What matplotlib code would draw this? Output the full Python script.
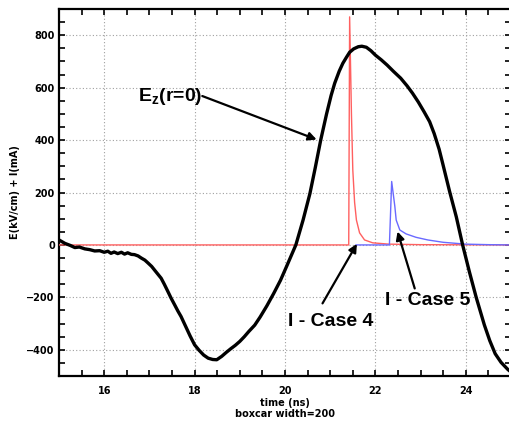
import numpy as np
import matplotlib
matplotlib.use("Agg")
import matplotlib.pyplot as plt
from matplotlib.ticker import MultipleLocator

# E_z(r=0) trace (time in ns, field in kV/cm)
ez_t = [15.00, 15.13, 15.25, 15.35, 15.45, 15.57, 15.68, 15.79, 15.90, 16.00,
        16.08, 16.15, 16.22, 16.30, 16.38, 16.45, 16.52, 16.60, 16.67, 16.75,
        16.82, 16.90, 16.97, 17.05, 17.11, 17.18, 17.26, 17.33, 17.41, 17.48,
        17.56, 17.63, 17.70, 17.80, 17.90, 18.00, 18.10, 18.20, 18.30, 18.40,
        18.49, 18.60, 18.70, 18.80, 18.90, 19.00, 19.10, 19.20, 19.33, 19.45,
        19.60, 19.75, 19.90, 20.04, 20.14, 20.24, 20.40, 20.55, 20.67, 20.79,
        20.92, 21.02, 21.10, 21.20, 21.28, 21.36, 21.43, 21.52, 21.62, 21.70,
        21.80, 21.90, 22.00, 22.13, 22.26, 22.40, 22.56, 22.70, 22.82, 22.95,
        23.08, 23.20, 23.30, 23.41, 23.49, 23.64, 23.79, 23.93, 24.08, 24.23,
        24.41, 24.53, 24.65, 24.78, 24.93, 25.00]
ez_v = [19, 6, -2, -10, -8, -15, -18, -23, -22, -28,
        -24, -32, -27, -33, -28, -35, -30, -36, -37, -42,
        -50, -58, -69, -82, -95, -110, -127, -150, -178, -203,
        -229, -252, -273, -310, -347, -381, -402, -420, -432, -437,
        -438, -425, -410, -396, -383, -368, -350, -330, -306, -275,
        -232, -185, -135, -80, -40, 0, 95, 195, 295, 400,
        500, 570, 617, 663, 693, 716, 735, 748, 756, 758,
        754, 741, 724, 706, 686, 662, 636, 607, 579, 545,
        507, 470, 425, 365, 310, 205, 107, 0, -103, -200,
        -305, -365, -415, -448, -475, -485]

# current, case 4 (mA)
c4_t = [15.0, 21.41, 21.43, 21.47, 21.50, 21.54, 21.58, 21.65, 21.76, 21.94, 22.3, 23.0, 25.0]
c4_v = [0, 0, 870, 500, 286, 162, 95, 46, 19, 8, 3, 1, 0]

# current, case 5 (mA)
c5_t = [21.57, 22.31, 22.36, 22.43, 22.46, 22.54, 22.68, 22.90, 23.16, 23.5, 24.0, 24.5, 25.0]
c5_v = [0, 0, 242, 147, 95, 57, 42, 29, 19, 10, 3, 1, 0]

fig = plt.figure(figsize=(5.10, 4.24), dpi=100)
ax = fig.add_axes([59 / 510, 1 - 376 / 424, 452 / 510, 367 / 424])

ax.plot(c4_t, c4_v, color='#ff6060', lw=1.0, zorder=3)
ax.plot(c5_t, c5_v, color='#6a6aff', lw=1.0, zorder=3)
ax.plot(ez_t, ez_v, color='black', lw=2.4, zorder=4)

ax.set_xlim(15, 25)
ax.set_ylim(-500, 900)
ax.xaxis.set_major_locator(MultipleLocator(2))
ax.xaxis.set_minor_locator(MultipleLocator(0.5))
ax.yaxis.set_major_locator(MultipleLocator(200))
ax.yaxis.set_minor_locator(MultipleLocator(50))
ax.tick_params(which='both', direction='in', top=True, right=True,
               length=4.5, width=1.2)
ax.tick_params(axis='x', pad=7)
ax.tick_params(axis='y', pad=3)
for lab in ax.get_xticklabels() + ax.get_yticklabels():
    lab.set_fontsize(7)
    lab.set_fontweight('bold')
for sp in ax.spines.values():
    sp.set_linewidth(1.6)

ax.grid(True, which='major', color='#a0a0a0', lw=0.8, linestyle=(0, (1, 2)))
ax.set_axisbelow(True)

ax.set_xlabel("time (ns)\nboxcar width=200", fontsize=7, fontweight='bold',
              linespacing=1.05, labelpad=2)
ax.set_ylabel("E(kV/cm) + I(mA)", fontsize=7, fontweight='bold', labelpad=5)

# annotations
ann = dict(family='Liberation Sans', fontweight='bold', fontsize=14)
arrow = dict(arrowstyle='-|>', color='black', lw=1.6, mutation_scale=12,
             shrinkA=0, shrinkB=0)
ax.text(18.17, 565, r"E$_\mathregular{z}$(r=0)", ha='right', va='center', **ann)
ax.annotate('', xy=(20.70, 402), xytext=(18.17, 568), arrowprops=arrow)

ax.text(21.0, -291, "I - Case 4", ha='center', va='center', **ann)
ax.annotate('', xy=(21.59, 4), xytext=(20.83, -223), arrowprops=arrow)

ax.text(23.15, -211, "I - Case 5", ha='center', va='center', **ann)
ax.annotate('', xy=(22.49, 51), xytext=(22.87, -166), arrowprops=arrow)

fig.savefig('out.png', dpi=100)
